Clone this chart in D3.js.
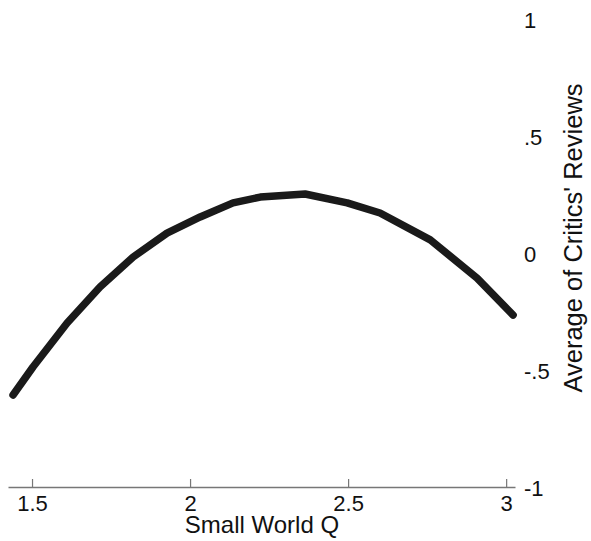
<!DOCTYPE html>
<html>
<head>
<meta charset="utf-8">
<script src="https://cdn.jsdelivr.net/npm/d3@7"></script>
<style>
  html, body { margin: 0; padding: 0; background: #fff; }
  svg { display: block; font-family: "Liberation Sans", Arial, sans-serif; }
</style>
</head>
<body>
<svg id="chart" width="591" height="541"></svg>
<script>
// Fitted curve: Small World Q vs average critics' review score
const qValues = [1.44, 1.503, 1.611, 1.715, 1.82, 1.927, 2.032, 2.136, 2.222, 2.364, 2.497, 2.601, 2.76, 2.908, 3.022];
const reviewValues = [-0.607, -0.487, -0.299, -0.145, -0.017, 0.085, 0.154, 0.214, 0.239, 0.252, 0.214, 0.171, 0.056, -0.107, -0.265];
const xTicks = [1.5, 2, 2.5, 3];
const xTickLabels = ["1.5", "2", "2.5", "3"];
const yTicks = [-1, -0.5, 0, 0.5, 1];
const yTickLabels = ["-1", "-.5", "0", ".5", "1"];

const svg = d3.select("#chart");

const x = d3.scaleLinear().domain([1.424, 3.028]).range([8, 515]);
const y = d3.scaleLinear().domain([-1, 1]).range([487, 19]);

// Bottom axis: grey baseline with ticks pointing into the plot
const xAxis = svg.append("g")
  .attr("transform", `translate(0,${y(-1)})`)
  .call(d3.axisBottom(x)
    .tickValues(xTicks)
    .tickFormat((d, i) => xTickLabels[i])
    .tickSizeInner(-8)
    .tickSizeOuter(0));
xAxis.select(".domain").attr("stroke", "#777").attr("stroke-width", 1.5);
xAxis.selectAll(".tick line").attr("stroke", "#777").attr("stroke-width", 1.2);
xAxis.selectAll(".tick text")
  .attr("font-size", 22)
  .attr("fill", "#111")
  .attr("dy", null)
  .attr("y", 24);

// Right axis: labels only, left-aligned and centred on their values
const yAxis = svg.append("g")
  .attr("transform", "translate(524,0)")
  .call(d3.axisRight(y)
    .tickValues(yTicks)
    .tickFormat((d, i) => yTickLabels[i])
    .tickSize(0)
    .tickPadding(0));
yAxis.select(".domain").remove();
yAxis.selectAll(".tick text")
  .attr("font-size", 22)
  .attr("fill", "#111")
  .attr("text-anchor", "start")
  .attr("dy", null)
  .attr("y", 8);

// Axis titles
svg.append("text")
  .attr("x", 262)
  .attr("y", 533)
  .attr("text-anchor", "middle")
  .attr("font-size", 24)
  .attr("fill", "#111")
  .text("Small World Q");

svg.append("text")
  .attr("transform", "translate(582,238) rotate(-90)")
  .attr("text-anchor", "middle")
  .attr("font-size", 25.5)
  .attr("fill", "#111")
  .text("Average of Critics' Reviews");

// Curve
const line = d3.line()
  .x((d, i) => x(qValues[i]))
  .y(d => y(d));

svg.append("path")
  .datum(reviewValues)
  .attr("d", line)
  .attr("fill", "none")
  .attr("stroke", "#1a1a1a")
  .attr("stroke-width", 7.5)
  .attr("stroke-linecap", "round")
  .attr("stroke-linejoin", "round");
</script>
</body>
</html>
